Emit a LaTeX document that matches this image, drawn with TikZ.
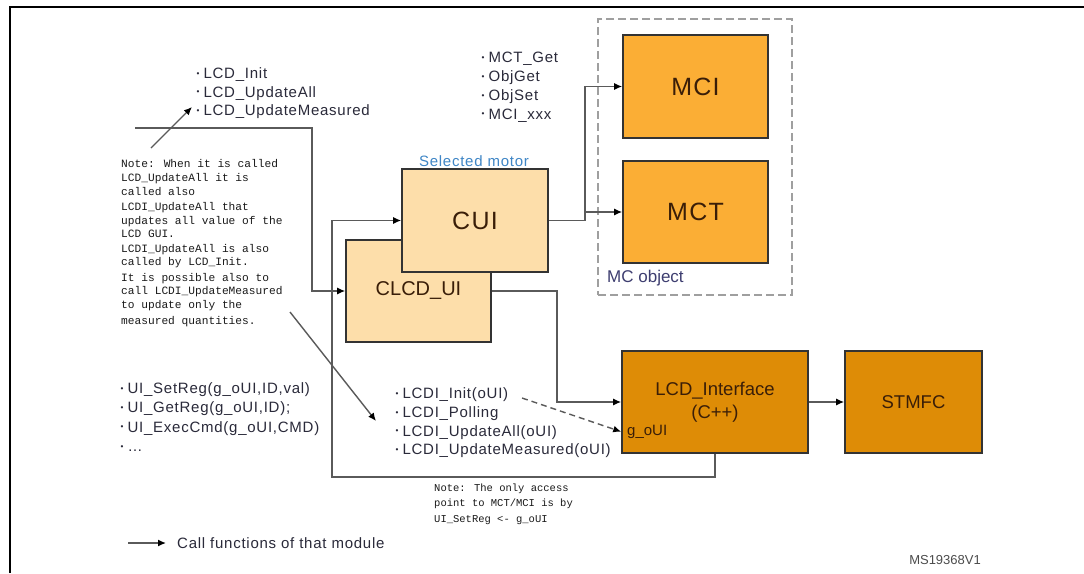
\documentclass[tikz,border=0pt]{standalone}
\usepackage{fontspec}
\setmainfont{Liberation Sans}
\newfontfamily\lsfont[LetterSpace=5]{Liberation Sans}
\newfontfamily\monofont{Liberation Mono}
\usetikzlibrary{arrows.meta}
\definecolor{peach}{HTML}{FDDEAA}
\definecolor{mcorange}{HTML}{FBAE35}
\definecolor{ifcorange}{HTML}{DE8C06}
\definecolor{boxedge}{HTML}{333333}
\definecolor{conncol}{HTML}{5A5A5A}
\definecolor{txt}{HTML}{2A2A3A}
\definecolor{boxtxt}{HTML}{3A1E08}
\definecolor{selblue}{HTML}{3F86C6}
\definecolor{mcobjcol}{HTML}{3E3E70}
\definecolor{notecol}{HTML}{1A1A1A}
\newcommand\fsz[1]{\fontsize{#1}{#1}\selectfont}
\newcommand\bul{\raisebox{2.2pt}{\scalebox{0.55}{\textbullet}}\hspace{4pt}}
\begin{document}
\begin{tikzpicture}[x=1pt,y=-1pt,
  box/.style={draw=boxedge, line width=1.6pt, inner sep=0pt, text=boxtxt},
  lightbox/.style={box, fill=peach},
  midbox/.style={box, fill=mcorange},
  darkbox/.style={box, fill=ifcorange},
  conn/.style={draw=conncol, line width=1.4pt, -{Latex[length=8pt,width=7pt,color=black]}},
  dconn/.style={conn, dash pattern=on 6pt off 4pt},
  lst/.style={inner sep=0pt, text=txt, font=\lsfont\fsz{15}, anchor=base west},
  mono/.style={inner sep=0pt, text=notecol, font=\monofont\fsz{11.2}, anchor=base west},
  monos/.style={inner sep=0pt, text=notecol, font=\monofont\fsz{10.5}, anchor=base west},
]
\useasboundingbox (0,0) rectangle (1084,573);
\fill[white] (0,0) rectangle (1084,573);
% frame
\draw[line width=2.2pt, black] (10,573) -- (10,7) -- (1084,7);

% MC object dashed group
\node[draw=gray!75, dash pattern=on 8pt off 4pt, line width=1.3pt, minimum width=194pt, minimum height=276pt, inner sep=0pt] (mcobj) at (695,157) {};
\node[anchor=west, inner sep=0pt, text=mcobjcol, font=\fsz{17}] (mclabel) at (607,278.3) {MC object};

% boxes
\node[midbox, minimum width=145pt, minimum height=103pt, font=\lsfont\fsz{25}] (mci) at (695.5,86.5) {MCI};
\node[midbox, minimum width=145pt, minimum height=102pt, font=\lsfont\fsz{25}] (mct) at (695.5,212) {MCT};
\node[lightbox, minimum width=145pt, minimum height=102pt, font=\fsz{20}] (clcd) at (418.5,291) {CLCD\_UI};
\node[lightbox, minimum width=146pt, minimum height=103pt, font=\lsfont\fsz{25}] (cui) at (475,220.5) {CUI};
\node[darkbox, minimum width=186pt, minimum height=102pt, font=\fsz{18.5}, align=center] (lcdif) at (715,402) {LCD\_Interface\\[5pt](C++)};
\node[darkbox, minimum width=137pt, minimum height=102pt, font=\fsz{18.5}] (stmfc) at (913.5,402) {STMFC};
\node[anchor=west, inner sep=0pt, text=boxtxt, font=\fsz{15}] (goui) at (627,431.7) {g\_oUI};

\node[inner sep=0pt, text=selblue, font=\lsfont\fsz{15}] (sel) at (474,161) {Selected motor};

% lists
\node[lst] (lcd0) at (196.5,78.7) {\bul LCD\_Init};
\node[lst] (lcd1) at (196.5,97.1) {\bul LCD\_UpdateAll};
\node[lst] (lcd2) at (196.5,115.5) {\bul LCD\_UpdateMeasured};

\node[lst] (mcl0) at (481.5,62.4) {\bul MCT\_Get};
\node[lst] (mcl1) at (481.5,81.3) {\bul ObjGet};
\node[lst] (mcl2) at (481.5,100.2) {\bul ObjSet};
\node[lst] (mcl3) at (481.5,119.1) {\bul MCI\_xxx};

\node[lst] (ui0) at (120.5,393.4) {\bul UI\_SetReg(g\_oUI,ID,val)};
\node[lst] (ui1) at (120.5,412.7) {\bul UI\_GetReg(g\_oUI,ID);};
\node[lst] (ui2) at (120.5,432.0) {\bul UI\_ExecCmd(g\_oUI,CMD)};
\node[lst] (ui3) at (120.5,451.3) {\bul \ldots};

\node[lst] (lcdi0) at (395.5,398.7) {\bul LCDI\_Init(oUI)};
\node[lst] (lcdi1) at (395.5,417.4) {\bul LCDI\_Polling};
\node[lst] (lcdi2) at (395.5,436.1) {\bul LCDI\_UpdateAll(oUI)};
\node[lst] (lcdi3) at (395.5,454.8) {\bul LCDI\_UpdateMeasured(oUI)};

% left note
\node[mono] (n0) at (121,167.6) {Note: When it is called};
\node[mono] (n1) at (121,181.6) {LCD\_UpdateAll it is};
\node[mono] (n2) at (121,195.6) {called also};
\node[mono] (n3) at (121,210.0) {LCDI\_UpdateAll that};
\node[mono] (n4) at (121,224.3) {updates all value of the};
\node[mono] (n5) at (121,237.6) {LCD GUI.};
\node[mono] (n6) at (121,252.6) {LCDI\_UpdateAll is also};
\node[mono] (n7) at (121,265.6) {called by LCD\_Init.};
\node[mono] (n8) at (121,281.0) {It is possible also to};
\node[mono] (n9) at (121,294.3) {call LCDI\_UpdateMeasured};
\node[mono] (n10) at (121,308.3) {to update only the};
\node[mono] (n11) at (121,324.3) {measured quantities.};

% bottom note
\node[monos] (b0) at (434,491.4) {Note: The only access};
\node[monos] (b1) at (434,506.4) {point to MCT/MCI is by};
\node[monos] (b2) at (434,522.4) {UI\_SetReg <- g\_oUI};

% legend and id
\node[anchor=west, inner sep=0pt, text=txt, font=\lsfont\fsz{15}] (legend) at (177,543) {Call functions of that module};
\coordinate (lg1) at (128,543);
\node[anchor=east, inner sep=0pt, text=gray!60!black, font=\fsz{13}] (ms) at (981,560) {MS19368V1};

% free ends
\coordinate (in1) at (135,128);
\coordinate (br) at (585,212);
\coordinate (dstart) at (522,398);
\coordinate (a1s) at (151,148);
\coordinate (a1e) at (192,107);
\coordinate (a2s) at (290,312);
\coordinate (a2e) at (376,421);

% connectors
\draw[conn] (in1) -- (312,128) |- (clcd.west);
\draw[conn] (lcdif.south) -- (715,477) -- (332,477) |- (cui.west);
\draw[conn] (cui.east) -- (585,220.5) |- (mci.west);
\draw[conn] (br) -- (mct.west);
\draw[conn] (clcd.east) -- (557,291) |- (lcdif.west);
\draw[conn] (lcdif.east) -- (stmfc.west);
\draw[dconn] (dstart) -- (lcdif.west |- goui.west);
\draw[conn] (a1s) -- (a1e);
\draw[conn] (a2s) -- (a2e);
\draw[conn] (lg1) -- ([xshift=-11pt]legend.west);
\end{tikzpicture}
\end{document}
